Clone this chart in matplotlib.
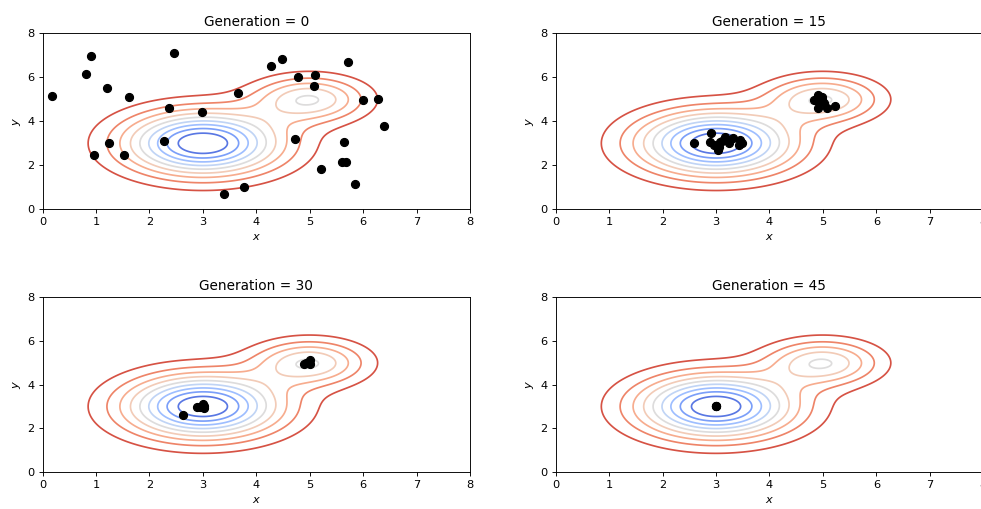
import numpy as np
import matplotlib
matplotlib.use("Agg")
import matplotlib.pyplot as plt

# Surface: two Gaussian wells (centre x, centre y, depth, width scale)
well_cx = [3.0, 5.0]
well_cy = [3.0, 5.0]
well_depth = [1.0, 0.5]
well_denom = [2.0, 1.0]

generations = [0, 15, 30, 45]

gen0_x = [0.17, 0.90, 0.82, 1.21, 1.62, 2.47, 2.37, 2.98, 3.66, 4.27, 4.49, 4.78, 5.10, 5.08, 6.00,
          6.27, 5.72, 6.39, 4.73, 5.65, 5.60, 5.68, 5.22, 5.85, 3.78, 3.40, 2.27, 1.25, 0.97, 1.52]
gen0_y = [5.17, 6.97, 6.14, 5.53, 5.12, 7.09, 4.62, 4.41, 5.27, 6.53, 6.83, 6.03, 6.09, 5.61, 4.97,
          5.00, 6.71, 3.79, 3.18, 3.05, 2.14, 2.14, 1.82, 1.15, 1.03, 0.68, 3.11, 3.03, 2.47, 2.47]

gen15_x = [2.58, 2.91, 2.88, 3.03, 3.07, 3.16, 3.25, 3.44, 3.43, 3.31, 2.97, 3.49, 3.05, 3.12,
           4.90, 4.84, 4.98, 4.90, 5.07, 5.23, 4.93, 4.99, 5.02, 4.95]
gen15_y = [3.03, 3.45, 3.07, 2.69, 3.07, 3.30, 3.00, 3.15, 2.92, 3.23, 2.92, 3.03, 2.85, 3.10,
           5.20, 4.97, 5.12, 4.59, 4.59, 4.70, 4.89, 4.97, 4.82, 5.05]

gen30_x = [2.63, 2.89, 3.00, 3.02, 2.95, 3.03, 5.00, 4.90, 5.01, 4.98, 4.93]
gen30_y = [2.60, 2.99, 3.11, 2.94, 2.99, 3.02, 5.11, 4.96, 4.93, 5.04, 4.98]

gen45_x = [3.0, 3.0, 3.0]
gen45_y = [3.0, 3.0, 3.0]

pop_x = [gen0_x, gen15_x, gen30_x, gen45_x]
pop_y = [gen0_y, gen15_y, gen30_y, gen45_y]

xs = np.linspace(0, 8, 321)
ys = np.linspace(0, 8, 321)
X, Y = np.meshgrid(xs, ys)
Z = np.zeros_like(X)
for cx, cy, d, s in zip(well_cx, well_cy, well_depth, well_denom):
    Z -= d * np.exp(-((X - cx) ** 2 + (Y - cy) ** 2) / s)

levels = np.linspace(-0.9, -0.1, 9)

DPI = 82
fig = plt.figure(figsize=(981 / DPI, 509 / DPI), dpi=DPI)

W, H = 981.0, 509.0
rects = [
    (42.5, 33.3, 427.5, 176.0),
    (555.7, 33.3, 427.5, 176.0),
    (42.5, 297.3, 427.5, 174.7),
    (555.7, 297.3, 427.5, 174.7),
]

for (px, py, pw, ph), g, vx, vy in zip(rects, generations, pop_x, pop_y):
    ax = fig.add_axes([px / W, 1 - (py + ph) / H, pw / W, ph / H])
    ax.contour(X, Y, Z, levels=levels, cmap="coolwarm", vmin=-1, vmax=0, linewidths=1.5)
    ax.scatter(vx, vy, s=50, color="black", zorder=3)
    ax.set_xlim(0, 8)
    ax.set_ylim(0, 8)
    ax.set_xticks(range(0, 9))
    ax.set_yticks(range(0, 9, 2))
    ax.set_xlabel("$x$")
    ax.set_ylabel("$y$")
    ax.set_title(f"Generation = {g}")

fig.savefig("out.png", dpi=DPI)
